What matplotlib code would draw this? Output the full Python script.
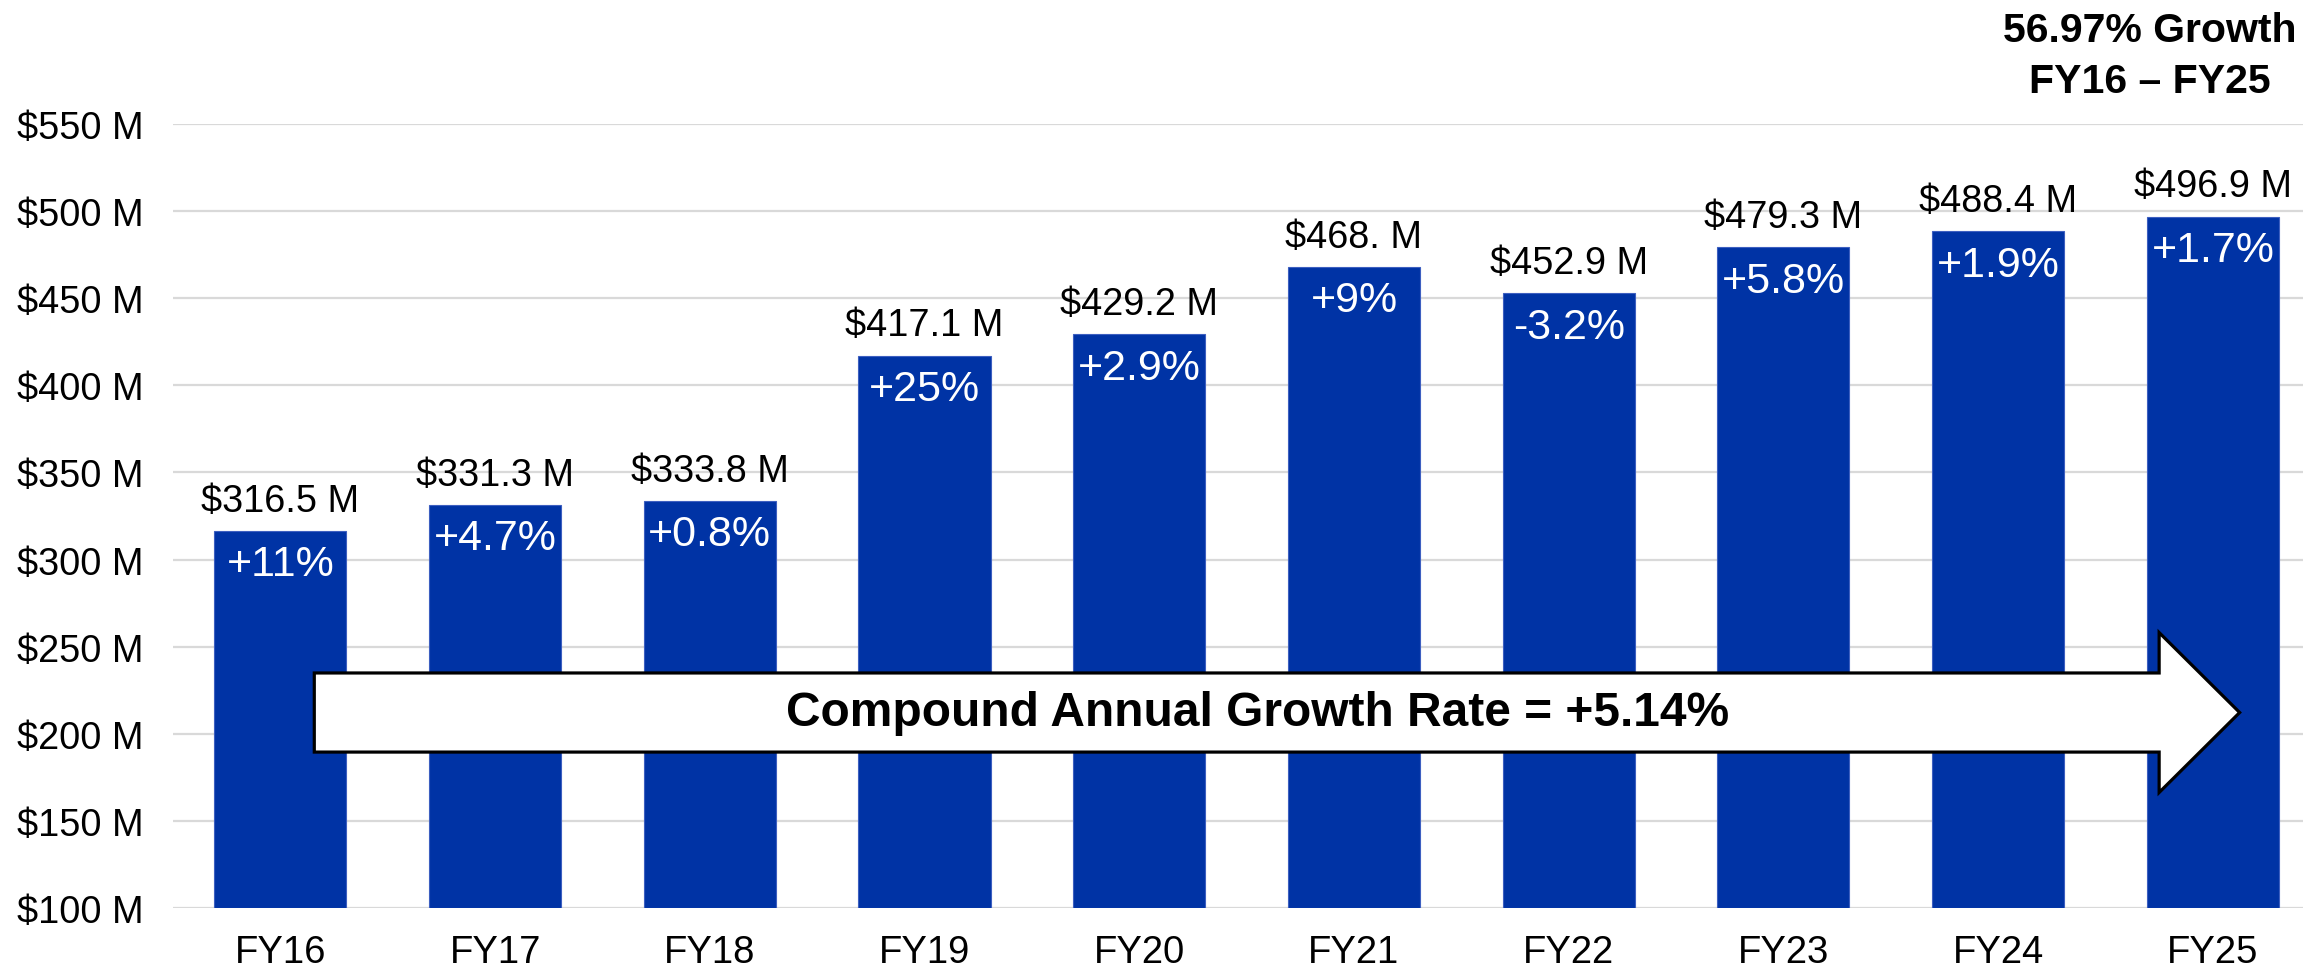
import matplotlib
matplotlib.use("Agg")
import matplotlib.pyplot as plt
from matplotlib.patches import Polygon

plt.rcParams['font.family'] = ['Liberation Sans', 'DejaVu Sans']

# data
years = ["FY16", "FY17", "FY18", "FY19", "FY20", "FY21", "FY22", "FY23", "FY24", "FY25"]
revenue = [316.5, 331.3, 333.8, 417.1, 429.2, 468.0, 452.9, 479.3, 488.4, 496.9]
value_labels = ["$316.5 M", "$331.3 M", "$333.8 M", "$417.1 M", "$429.2 M",
                "$468. M", "$452.9 M", "$479.3 M", "$488.4 M", "$496.9 M"]
change_labels = ["+11%", "+4.7%", "+0.8%", "+25%", "+2.9%",
                 "+9%", "-3.2%", "+5.8%", "+1.9%", "+1.7%"]
y_ticks = [100, 150, 200, 250, 300, 350, 400, 450, 500, 550]
cagr_text = "Compound Annual Growth Rate = +5.14%"
title_lines = ["56.97% Growth", "FY16 \u2013 FY25"]

BAR_COLOR = "#0033a5"
GRID_COLOR = "#d9d9d9"

fig = plt.figure(figsize=(23.03, 9.70), dpi=100)
ax = fig.add_axes([173 / 2303, 61 / 970, 1 - 173 / 2303, 784 / 970])

x = list(range(len(years)))
bars = ax.bar(x, [v - 100 for v in revenue], bottom=100, width=0.615,
              color=BAR_COLOR, edgecolor="#3d5fc0", linewidth=0.8, zorder=2)

ax.set_xlim(-0.5, 9.42)
ax.set_ylim(100, 550)
ax.set_yticks(y_ticks)
ax.set_yticklabels([f"${t} M" for t in y_ticks])
ax.set_xticks(x)
ax.set_xticklabels(years)
ax.tick_params(axis="y", length=0, pad=21, labelsize=27.3)
ax.tick_params(axis="x", length=0, pad=18.5, labelsize=27.5)
ax.grid(axis="y", color=GRID_COLOR, linewidth=1.6, zorder=0)
ax.set_axisbelow(True)
for s in ax.spines.values():
    s.set_visible(False)

# value above, change inside each bar
for i, b in enumerate(bars):
    ax.annotate(value_labels[i], (i, revenue[i]), xytext=(0, 14.5),
                textcoords="offset points", ha="center", va="baseline",
                fontsize=27.3, color="black", zorder=4)
    t = ax.annotate(change_labels[i], (i, revenue[i]), xytext=(0, -32),
                    textcoords="offset points", ha="center", va="baseline",
                    fontsize=31, color="white", zorder=4)
    t.set_clip_path(b)

# CAGR arrow
x0, x_head, x_tip = 0.158, 8.75, 9.125
y_mid, half_body, half_head = 212.2, 22.7, 45.9
arrow = Polygon([(x0, y_mid + half_body), (x_head, y_mid + half_body),
                 (x_head, y_mid + half_head), (x_tip, y_mid),
                 (x_head, y_mid - half_head), (x_head, y_mid - half_body),
                 (x0, y_mid - half_body)],
                closed=True, facecolor="white", edgecolor="black",
                linewidth=2.3, zorder=5, clip_on=False)
ax.add_patch(arrow)
ax.text(4.55, y_mid, cagr_text, ha="center", va="center", fontsize=34.5,
        fontweight="bold", zorder=6)

fig.text(2150 / 2303, 1 - 31 / 970, title_lines[0], ha="center", va="center",
         fontsize=29.5, fontweight="bold")
fig.text(2150 / 2303, 1 - 82 / 970, title_lines[1], ha="center", va="center",
         fontsize=29.5, fontweight="bold")

fig.savefig("out.png", dpi=100, facecolor="white")
